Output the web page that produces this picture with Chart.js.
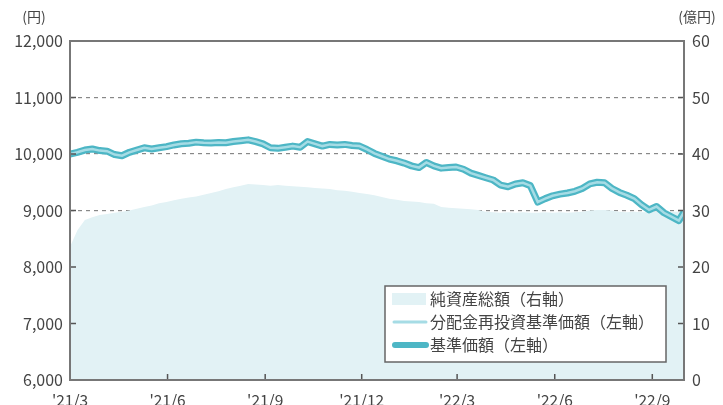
<!DOCTYPE html>
<html>
<head>
<meta charset="utf-8">
<script src="https://cdn.jsdelivr.net/npm/chart.js@4"></script>
<style>
  html, body { margin: 0; padding: 0; background: #fff; }
  #wrap { width: 723px; height: 405px; }
</style>
</head>
<body>
<div id="wrap"><canvas id="chart" width="723" height="405"></canvas></div>
<script>
// weeks since 2021/3/1
const weeks = [0, 1, 2, 3, 4, 5, 6, 7, 8, 9, 10, 11, 12, 13, 14, 15, 16, 17, 18, 19,
  20, 21, 22, 23, 24, 25, 26, 27, 28, 29, 30, 31, 32, 33, 34, 35, 36, 37, 38, 39,
  40, 41, 42, 43, 44, 45, 46, 47, 48, 49, 50, 51, 52, 53, 54, 55, 56, 57, 58, 59,
  60, 61, 62, 63, 64, 65, 66, 67, 68, 69, 70, 71, 72, 73, 74, 75, 76, 77, 78, 79,
  80, 81, 82, 82.7]

// 基準価額 (円)
const basePrice = [10000, 10030, 10070, 10090, 10060, 10050, 9990, 9970, 10030, 10070,
  10110, 10090, 10110, 10130, 10160, 10180, 10190, 10210, 10200, 10195,
  10205, 10200, 10220, 10235, 10250, 10220, 10180, 10110, 10100, 10120,
  10140, 10120, 10220, 10180, 10140, 10170, 10160, 10170, 10150, 10140,
  10080, 10010, 9960, 9910, 9880, 9840, 9790, 9760, 9850, 9790,
  9750, 9760, 9770, 9730, 9660, 9620, 9580, 9540, 9450, 9420,
  9470, 9490, 9440, 9150, 9210, 9260, 9290, 9310, 9340, 9390,
  9470, 9500, 9490, 9390, 9320, 9270, 9210, 9100, 9010, 9070,
  8960, 8890, 8820, 8970]

// 分配金再投資基準価額 (円) - no distribution paid, same as 基準価額
const reinvestPrice = basePrice

// 純資産総額 (億円)
const netAssets = [23.6, 26.5, 28.3, 28.8, 29.2, 29.4, 29.6, 29.8, 30.0, 30.3,
  30.6, 30.9, 31.3, 31.5, 31.8, 32.1, 32.3, 32.5, 32.8, 33.1,
  33.4, 33.8, 34.1, 34.4, 34.7, 34.6, 34.5, 34.4, 34.5, 34.4,
  34.3, 34.2, 34.1, 34.0, 33.9, 33.8, 33.6, 33.5, 33.3, 33.1,
  32.9, 32.7, 32.4, 32.1, 31.9, 31.7, 31.6, 31.5, 31.3, 31.2,
  30.6, 30.5, 30.4, 30.3, 30.2, 30.1, 29.8, 29.7, 29.6, 29.7,
  29.6, 29.7, 29.6, 29.6, 29.7, 29.6, 29.7, 29.6, 29.7, 29.8,
  30.0, 30.1, 30.1, 30.0, 29.8, 29.7, 29.8, 29.7, 29.7, 29.8,
  29.7, 29.8, 29.8, 29.8]

const tickWeeks = [0, 13.14, 26.29, 39.29, 52.14, 65.29, 78.43]
const tickLabels = ["'21/3", "'21/6", "'21/9", "'21/12", "'22/3", "'22/6", "'22/9"]

const legendNames = ['純資産総額（右軸）', '分配金再投資基準価額（左軸）', '基準価額（左軸）']

const FONT = '"Noto Sans CJK JP", "Noto Sans", sans-serif'
const TEXT = '#444'
const FILL = '#e2f2f5'
const THICK = '#4db6c5'
const THIN = '#a6dce5'

const toPoints = (ys) => ys.map((y, i) => ({ x: weeks[i], y: y }))

// frame, inner ticks, axis titles, legend
const decorPlugin = {
    id: 'decor',
    afterDatasetsDraw(chart) {
        const { ctx, chartArea: a, scales } = chart
        ctx.save()
        ctx.strokeStyle = '#555'
        ctx.lineWidth = 1.5
        ctx.beginPath()
        for (let v = 7000; v <= 11000; v += 1000) {
            const y = scales.y.getPixelForValue(v)
            ctx.moveTo(a.left, y); ctx.lineTo(a.left + 6, y)
        }
        for (let v = 10; v <= 50; v += 10) {
            const y = scales.y2.getPixelForValue(v)
            ctx.moveTo(a.right - 6, y); ctx.lineTo(a.right, y)
        }
        tickWeeks.slice(1).forEach(w => {
            const x = scales.x.getPixelForValue(w)
            ctx.moveTo(x, a.bottom); ctx.lineTo(x, a.bottom - 6)
        })
        ctx.stroke()

        ctx.strokeStyle = '#777'
        ctx.lineWidth = 2
        ctx.strokeRect(a.left, a.top, a.right - a.left, a.bottom - a.top)
        ctx.restore()
    },
    afterDraw(chart) {
        const { ctx } = chart
        ctx.save()
        ctx.fillStyle = TEXT
        ctx.font = '14px ' + FONT
        ctx.textBaseline = 'middle'
        ctx.textAlign = 'center'
        ctx.fillText('(円)', 34, 17)
        ctx.fillText('(億円)', 697, 17)

        // legend box
        const lx = 385, ly = 286, lw = 281, lh = 76
        ctx.fillStyle = '#fff'
        ctx.fillRect(lx, ly, lw, lh)
        ctx.strokeStyle = '#666'
        ctx.lineWidth = 1.5
        ctx.strokeRect(lx, ly, lw, lh)

        const rows = [299, 322, 345]
        ctx.fillStyle = FILL
        ctx.fillRect(392, rows[0] - 6, 34, 12)

        ctx.lineCap = 'round'
        ctx.strokeStyle = THIN
        ctx.lineWidth = 3
        ctx.beginPath(); ctx.moveTo(394, rows[1]); ctx.lineTo(426, rows[1]); ctx.stroke()
        ctx.strokeStyle = THICK
        ctx.lineWidth = 6
        ctx.beginPath(); ctx.moveTo(395, rows[2]); ctx.lineTo(426, rows[2]); ctx.stroke()

        ctx.fillStyle = TEXT
        ctx.font = '16px ' + FONT
        ctx.textAlign = 'left'
        legendNames.forEach((n, i) => ctx.fillText(n, 430, rows[i]))
        ctx.restore()
    }
}

new Chart(document.getElementById('chart'), {
    type: 'line',
    data: {
        datasets: [
            {
                label: legendNames[1],
                data: toPoints(reinvestPrice),
                yAxisID: 'y',
                borderColor: THIN,
                borderWidth: 2.5,
                pointRadius: 0,
                tension: 0,
                order: 1
            },
            {
                label: legendNames[2],
                data: toPoints(basePrice),
                yAxisID: 'y',
                borderColor: THICK,
                borderWidth: 7,
                pointRadius: 0,
                tension: 0,
                borderJoinStyle: 'round',
                order: 2
            },
            {
                label: legendNames[0],
                data: toPoints(netAssets),
                yAxisID: 'y2',
                borderWidth: 0,
                borderColor: FILL,
                backgroundColor: FILL,
                fill: 'origin',
                pointRadius: 0,
                tension: 0,
                order: 3
            }
        ]
    },
    options: {
        responsive: false,
        animation: false,
        events: [],
        layout: { padding: { top: 41, left: 0, right: 0, bottom: 0 } },
        plugins: { legend: { display: false }, tooltip: { enabled: false } },
        scales: {
            x: {
                type: 'linear',
                min: 0,
                max: 82.7,
                afterBuildTicks: (s) => { s.ticks = tickWeeks.map(v => ({ value: v })) },
                afterFit: (s) => { s.height = 25 },
                ticks: {
                    autoSkip: false,
                    maxRotation: 0,
                    padding: 3,
                    color: TEXT,
                    font: { family: FONT, size: 15.5 },
                    callback: (v) => tickLabels[tickWeeks.indexOf(v)]
                },
                grid: { display: false },
                border: { display: false }
            },
            y: {
                position: 'left',
                min: 6000,
                max: 12000,
                afterFit: (s) => { s.width = 70 },
                ticks: {
                    stepSize: 1000,
                    padding: 7,
                    color: TEXT,
                    font: { family: FONT, size: 16 },
                    callback: (v) => v.toLocaleString('en-US')
                },
                grid: { color: '#888', lineWidth: 1.2, drawTicks: false },
                border: { display: false, dash: [4, 4] }
            },
            y2: {
                position: 'right',
                min: 0,
                max: 60,
                afterFit: (s) => { s.width = 39 },
                ticks: {
                    stepSize: 10,
                    padding: 8,
                    color: TEXT,
                    font: { family: FONT, size: 16 }
                },
                grid: { display: false, drawTicks: false },
                border: { display: false }
            }
        }
    },
    plugins: [decorPlugin]
})
</script>
</body>
</html>
